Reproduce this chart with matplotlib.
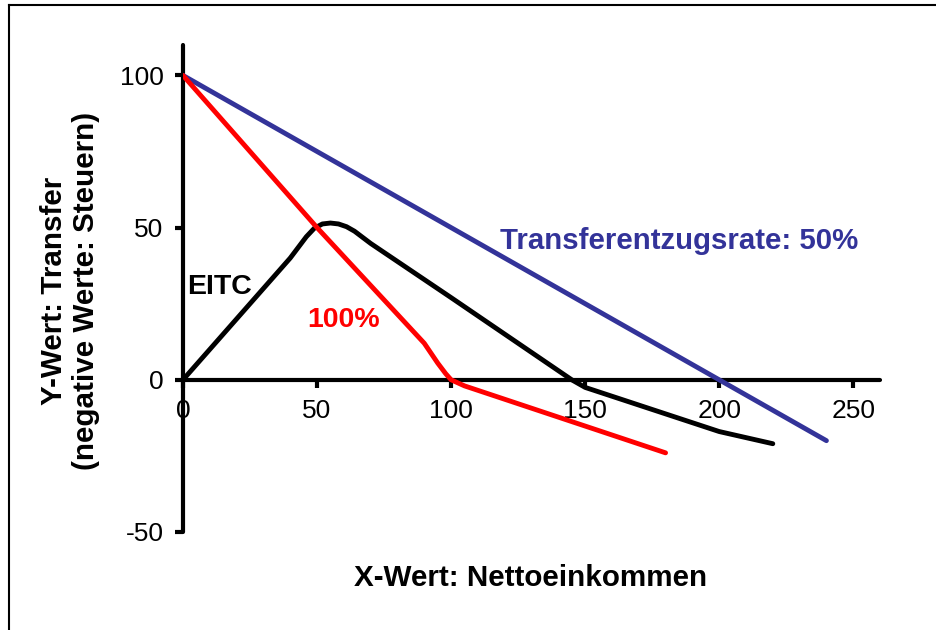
import matplotlib
matplotlib.use('Agg')
import matplotlib.pyplot as plt
from matplotlib.lines import Line2D

plt.rcParams['font.family'] = ['Liberation Sans', 'DejaVu Sans']
plt.rcParams['axes.unicode_minus'] = False

# Transferentzugsrate 50%
blue_x = [0, 240]
blue_y = [100, -20]

# Transferentzugsrate 100%
red_x = [0, 50, 90, 95, 98, 100, 105, 180]
red_y = [100, 50, 12, 5.5, 2, 0, -2, -24]

# EITC
eitc_x = [0, 20, 40, 43, 46, 49, 52, 55, 58, 61, 64, 67, 70, 100, 145, 150, 200, 220]
eitc_y = [0, 20, 40, 43.5, 47, 49.8, 51.2, 51.5, 51.2, 50.3, 48.8, 46.8, 44.8, 27, 0, -2.5, -17, -21]

x_ticks = [0, 50, 100, 150, 200, 250]
y_ticks = [-50, 0, 50, 100]

fig = plt.figure(figsize=(9.37, 6.30), dpi=100)
ax = fig.add_axes([0.1953, 0.1556, 0.7439, 0.773])

ax.plot(blue_x, blue_y, color='#333399', lw=3.5, solid_capstyle='round', zorder=3)
ax.plot(red_x, red_y, color='#ff0000', lw=3.5, solid_capstyle='round',
        solid_joinstyle='round', zorder=4)
ax.plot(eitc_x, eitc_y, color='black', lw=3.5, solid_capstyle='round',
        solid_joinstyle='round', zorder=3)

ax.set_xlim(0, 260)
ax.set_ylim(-50, 110)

# axes crossing at the origin
ax.spines['top'].set_visible(False)
ax.spines['right'].set_visible(False)
ax.spines['bottom'].set_position(('data', 0))
ax.spines['left'].set_position(('data', 0))
ax.spines['left'].set_bounds(-50, 110)
for s in ['bottom', 'left']:
    ax.spines[s].set_linewidth(3)
    ax.spines[s].set_capstyle('round')

ax.set_xticks(x_ticks)
ax.set_yticks(y_ticks)
ax.tick_params(axis='both', direction='out', length=6, width=3, labelsize=19)
ax.tick_params(axis='x', pad=8)
ax.tick_params(axis='y', pad=8)

fig.text(0.566, 0.0825, 'X-Wert: Nettoeinkommen', ha='center', va='center',
         fontsize=21.3, fontweight='bold')
fig.text(0.0747, 0.538, 'Y-Wert: Transfer\n(negative Werte: Steuern)', ha='center', va='center',
         rotation=90, fontsize=21.3, fontweight='bold', linespacing=1.15)

ax.text(118.3, 45.6, 'Transferentzugsrate: 50%', color='#333399', fontsize=21.2,
        fontweight='bold', va='center', ha='left')
ax.text(1.5, 30.5, 'EITC', color='black', fontsize=20.5, fontweight='bold', va='center', ha='left')
ax.text(46.3, 19.7, '100%', color='#ff0000', fontsize=20.5, fontweight='bold', va='center', ha='left')

# frame lines at top and left edge of the picture
fig.add_artist(Line2D([9 / 937, 1.0], [1 - 5 / 630, 1 - 5 / 630], color='black', lw=1.5))
fig.add_artist(Line2D([9 / 937, 9 / 937], [0, 1 - 5 / 630], color='black', lw=1.5))

fig.savefig('out.png', dpi=100)
